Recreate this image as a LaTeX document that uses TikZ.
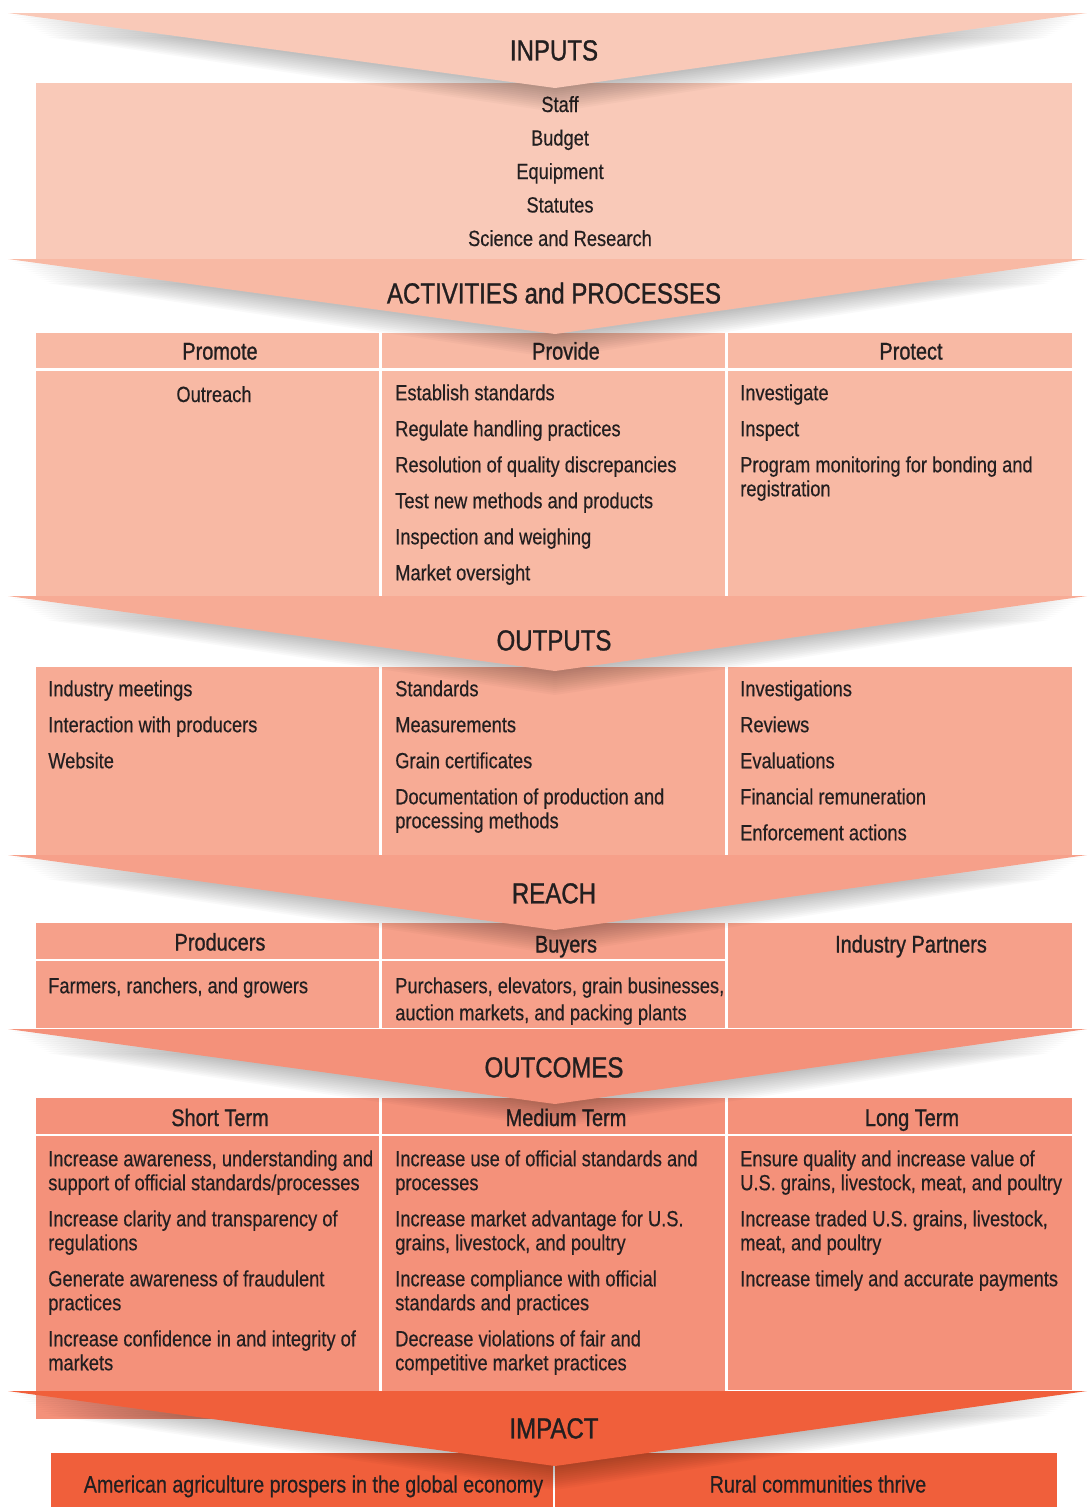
\documentclass[tikz,border=0pt]{standalone}
\usepackage{fontspec}
\setmainfont{Liberation Sans}[FakeStretch=0.83, FakeBold=0.4]
\newfontfamily\headfont{Liberation Sans}[FakeStretch=0.83, FakeBold=1.0]
\usepackage{tikz}
\usetikzlibrary{calc,positioning}
\definecolor{tinta}{HTML}{231F20}
\definecolor{rosaInputs}{HTML}{F9C9B8}
\definecolor{rosaActivities}{HTML}{F8B9A4}
\definecolor{rosaOutputs}{HTML}{F7AB95}
\definecolor{rosaReach}{HTML}{F6A08A}
\definecolor{rosaOutcomes}{HTML}{F4917A}
\definecolor{rojoImpact}{HTML}{F05F3B}
\tikzstyle{title}=[font=\headfont\fontsize{20.6}{24}\selectfont, text=tinta,
                   inner sep=0pt, anchor=base]
\tikzstyle{head} =[font=\headfont\fontsize{17.07}{20}\selectfont, text=tinta,
                   inner sep=0pt, anchor=base]
\tikzstyle{item} =[font=\fontsize{15.65}{17.07}\selectfont, text=tinta,
                   inner sep=0pt, align=left, anchor=north west]
\tikzstyle{sep}  =[white, line width=0.06cm]

\begin{document}
\begin{tikzpicture}[x=0.025cm, y=-0.025cm]
    \useasboundingbox (0,0) rectangle (1087,1507);

    % inputs
    \fill[rosaInputs] (36,83) rectangle (1072,259);
    \foreach \t [count=\i] in {Staff, Budget, Equipment, Statutes, Science and Research}
        \node[item, anchor=base] (in\i) at (560,{112+33.5*(\i-1)}) {\t};

    % activities and processes
    \fill[rosaActivities] (36,333) rectangle (1072,596);
    \draw[sep] (36,369.5) -- (1072,369.5);
    \foreach \x in {380.5,726.5}
        \draw[sep] (\x,333) -- (\x,596);
    \foreach \x/\h [count=\i] in {220/Promote, 566/Provide, 911/Protect}
        \node[head] (act\i) at (\x,359.5) {\h};
    \node[item, anchor=base] (promote) at (214,402) {Outreach};
    \node[item] (provide) at (395,384) {Establish standards\\[0.3cm]
        Regulate handling practices\\[0.3cm]
        Resolution of quality discrepancies\\[0.3cm]
        Test new methods and products\\[0.3cm]
        Inspection and weighing\\[0.3cm]
        Market oversight};
    \node[item] (protect) at (740,384) {Investigate\\[0.3cm]
        Inspect\\[0.3cm]
        Program monitoring for bonding and\\registration};

    % outputs
    \fill[rosaOutputs] (36,667) rectangle (1072,855);
    \foreach \x in {380.5,726.5}
        \draw[sep] (\x,667) -- (\x,855);
    \node[item] (out1) at (48,680) {Industry meetings\\[0.3cm]
        Interaction with producers\\[0.3cm]
        Website};
    \node[item] (out2) at (395,680) {Standards\\[0.3cm]
        Measurements\\[0.3cm]
        Grain certificates\\[0.3cm]
        Documentation of production and\\processing methods};
    \node[item] (out3) at (740,680) {Investigations\\[0.3cm]
        Reviews\\[0.3cm]
        Evaluations\\[0.3cm]
        Financial remuneration\\[0.3cm]
        Enforcement actions};

    % reach
    \fill[rosaReach] (36,923) rectangle (1072,1028);
    \draw[sep] (36,960) -- (726.5,960);
    \foreach \x in {380.5,726.5}
        \draw[sep] (\x,923) -- (\x,1028);
    \node[head] (reach1) at (220,950.5) {Producers};
    \node[head] (reach2) at (566,952.5) {Buyers};
    \node[head] (reach3) at (911,952.5) {Industry Partners};
    \node[item] (producers) at (48,977) {Farmers, ranchers, and growers};
    \node[item] (buyers) at (395,977) {Purchasers, elevators, grain businesses,\\[0.075cm]
        auction markets, and packing plants};

    % outcomes
    \fill[rosaOutcomes] (36,1098) rectangle (1072,1390);
    \fill[rosaOutcomes] (36,1390) rectangle (725,1419);
    \draw[sep] (36,1135) -- (1072,1135);
    \foreach \x in {380.5,726.5}
        \draw[sep] (\x,1098) -- (\x,1391);
    \foreach \x/\h [count=\i] in {220/Short Term, 566/Medium Term, 912/Long Term}
        \node[head] (term\i) at (\x,1126) {\h};
    \node[item] (short) at (48,1150) {Increase awareness, understanding and\\
        support of official standards/processes\\[0.3cm]
        Increase clarity and transparency of\\regulations\\[0.3cm]
        Generate awareness of fraudulent\\practices\\[0.3cm]
        Increase confidence in and integrity of\\markets};
    \node[item] (medium) at (395,1150) {Increase use of official standards and\\processes\\[0.3cm]
        Increase market advantage for U.S.\\grains, livestock, and poultry\\[0.3cm]
        Increase compliance with official\\standards and practices\\[0.3cm]
        Decrease violations of fair and\\competitive market practices};
    \node[item] (long) at (740,1150) {Ensure quality and increase value of\\
        U.S. grains, livestock, meat, and poultry\\[0.3cm]
        Increase traded U.S. grains, livestock,\\meat, and poultry\\[0.3cm]
        Increase timely and accurate payments};

    % impact
    \fill[rojoImpact] (51,1453) rectangle (1057,1507);
    \draw[sep] (554,1453) -- (554,1507);
    \node[item, anchor=base, font=\fontsize{16.86}{20}\selectfont] (imp1) at (313.5,1492.5)
        {American agriculture prospers in the global economy};
    \node[item, anchor=base, font=\fontsize{16.86}{20}\selectfont] (imp2) at (818,1492.5)
        {Rural communities thrive};

    % chevrons with their shadows
    \foreach \yt/\c/\ty/\ttl in {13/rosaInputs/50/INPUTS,
                                259/rosaActivities/293/ACTIVITIES and PROCESSES,
                                596/rosaOutputs/640/OUTPUTS,
                                855/rosaReach/893/REACH,
                                1029/rosaOutcomes/1067/OUTCOMES,
                                1391/rojoImpact/1428/IMPACT}{
        \foreach \k in {1,...,12}
            \fill[black, opacity=0.025] ({555-547*(1-0.006*\k)},{\yt+2*\k})
                -- ({555+532*(1-0.006*\k)},{\yt+2*\k}) -- (555,{\yt+75+2*\k}) -- cycle;
        \fill[\c] (8,\yt) -- (1087,\yt) -- (555,{\yt+75}) -- cycle;
        \node[title] (ttl\yt) at (554,{\ty+10.4}) {\ttl};
    }
\end{tikzpicture}
\end{document}
